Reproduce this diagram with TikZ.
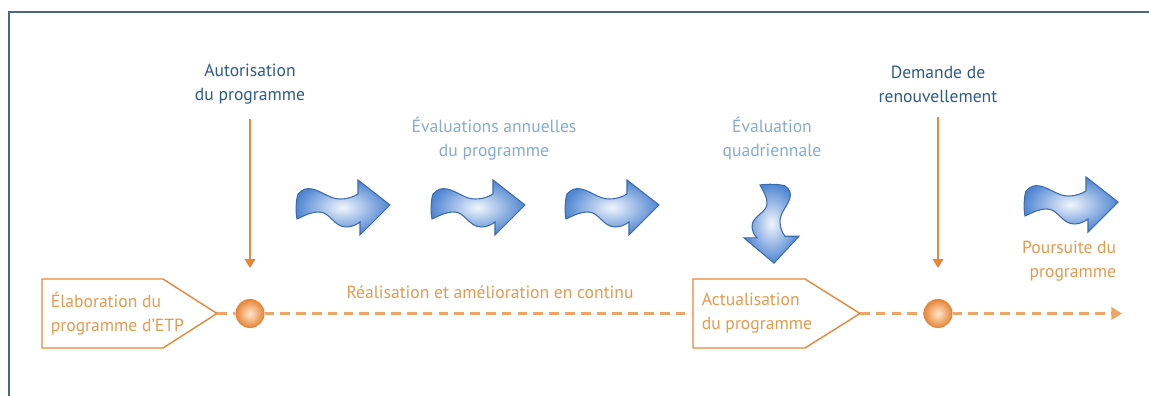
\documentclass[tikz,border=0pt]{standalone}
\usepackage{fontspec}
\setmainfont{PT Sans}
\usetikzlibrary{arrows.meta}

\definecolor{etporange}{HTML}{E8863A}
\definecolor{etpdash}{HTML}{EEA466}
\definecolor{etptext}{HTML}{E59A4E}
\definecolor{etpnavy}{HTML}{2F5B8A}
\definecolor{etpsky}{HTML}{86ABD3}
\definecolor{etpframe}{HTML}{4B6584}
\definecolor{waveblue}{HTML}{4F86D2}
\definecolor{waveline}{HTML}{3D6BAA}

\tikzset{
  every node/.style={font=\fontsize{10}{13.6}\selectfont, inner sep=2pt},
  darklabel/.style={text=etpnavy, align=center},
  lightlabel/.style={text=etpsky, align=center},
  orangelabel/.style={text=etptext, align=left},
  phasebox/.style={draw=etporange, line width=0.8pt, fill=white},
  milestone/.style={circle, minimum size=0.56cm, inner sep=0pt, draw=etporange,
    line width=0.6pt, inner color=orange!20!white, outer color=etporange},
  timeline/.style={etpdash, line width=1.6pt, dash pattern=on 5.5pt off 3.5pt},
  vline/.style={etporange, line width=0.8pt, -{Triangle[length=5pt,width=6pt]}},
  wave/.style={draw=waveline, line width=0.6pt, inner color=waveblue!8!white,
    outer color=waveblue},
}

% one wavy block arrow, pointing right, origin at the middle of its tail
\newcommand\wavyarrow[1]{%
  \path[wave,#1] (0.02,0.26) .. controls (0.12,0.36) and (0.18,0.38) .. (0.30,0.36)
    .. controls (0.50,0.32) and (0.65,0.16) .. (0.86,0.16)
    .. controls (1.02,0.16) and (1.12,0.20) .. (1.22,0.26) -- (1.22,0.54) -- (1.86,0.04)
    -- (1.26,-0.56) -- (1.26,-0.30) .. controls (1.18,-0.36) and (1.10,-0.40) .. (0.98,-0.40)
    .. controls (0.75,-0.40) and (0.65,-0.10) .. (0.45,-0.10)
    .. controls (0.25,-0.10) and (0.10,-0.20) .. (0,-0.24)
    .. controls (-0.03,-0.10) and (-0.02,0.15) .. (0.02,0.26) -- cycle;}

\begin{document}
\begin{tikzpicture}
  \fill[white] (0,0) rectangle (22.98,7.92);
  \useasboundingbox (0,0) rectangle (22.98,7.92);
  \draw[etpframe, line width=1.1pt] (0.18,0) -- (0.18,7.68) -- (22.98,7.68);

  % phases
  \draw[phasebox] (0.84,0.96) -- (0.84,2.34) -- (3.26,2.34) -- (4.34,1.65) -- (3.26,0.96) -- cycle;
  \coordinate (elabtip) at (4.34,1.65);
  \node[orangelabel, anchor=west] (elab) at (0.94,1.65) {Élaboration du\\programme d'ETP};

  \draw[phasebox] (13.86,0.96) -- (13.86,2.34) -- (16.10,2.34) -- (17.20,1.65) -- (16.10,0.96) -- cycle;
  \coordinate (actuwest) at (13.86,1.65);
  \coordinate (actutip) at (17.20,1.65);
  \node[orangelabel, anchor=west] (actu) at (13.96,1.65) {Actualisation\\du programme};

  % milestones
  \node[milestone] (auth) at (5.00,1.65) {};
  \node[milestone] (renew) at (18.76,1.65) {};
  \coordinate (end) at (22.44,1.65);

  \draw[timeline] (elabtip) -- (auth);
  \draw[timeline] (auth) -- (actuwest);
  \draw[timeline] (actutip) -- (renew);
  \draw[timeline, -{Triangle[length=6pt,width=7pt]}] (renew) -- (end);

  % labels
  \node[darklabel] (autor) at (5.00,6.24) {Autorisation\\du programme};
  \node[darklabel] (demande) at (18.76,6.24) {Demande de\\renouvellement};
  \node[lightlabel] (annual) at (9.88,5.15) {Évaluations annuelles\\du programme};
  \node[lightlabel] (quad) at (15.44,5.15) {Évaluation\\quadriennale};
  \node[orangelabel] (realis) at (9.80,2.08) {Réalisation et amélioration en continu};
  \node[orangelabel, align=right, anchor=east] (poursuite) at (22.40,2.70) {Poursuite du\\programme};

  \draw[vline, shorten <=0.22cm, shorten >=0.62cm] (autor) -- (auth);
  \draw[vline, shorten <=0.22cm, shorten >=0.62cm] (demande) -- (renew);

  % wavy arrows
  \wavyarrow{shift={(5.94,3.78)}}
  \wavyarrow{shift={(8.64,3.78)}}
  \wavyarrow{shift={(11.32,3.78)}}
  \wavyarrow{shift={(20.50,3.84)}}
  \wavyarrow{shift={(15.44,4.22)}, rotate=-90, xscale=0.84}
\end{tikzpicture}
\end{document}
